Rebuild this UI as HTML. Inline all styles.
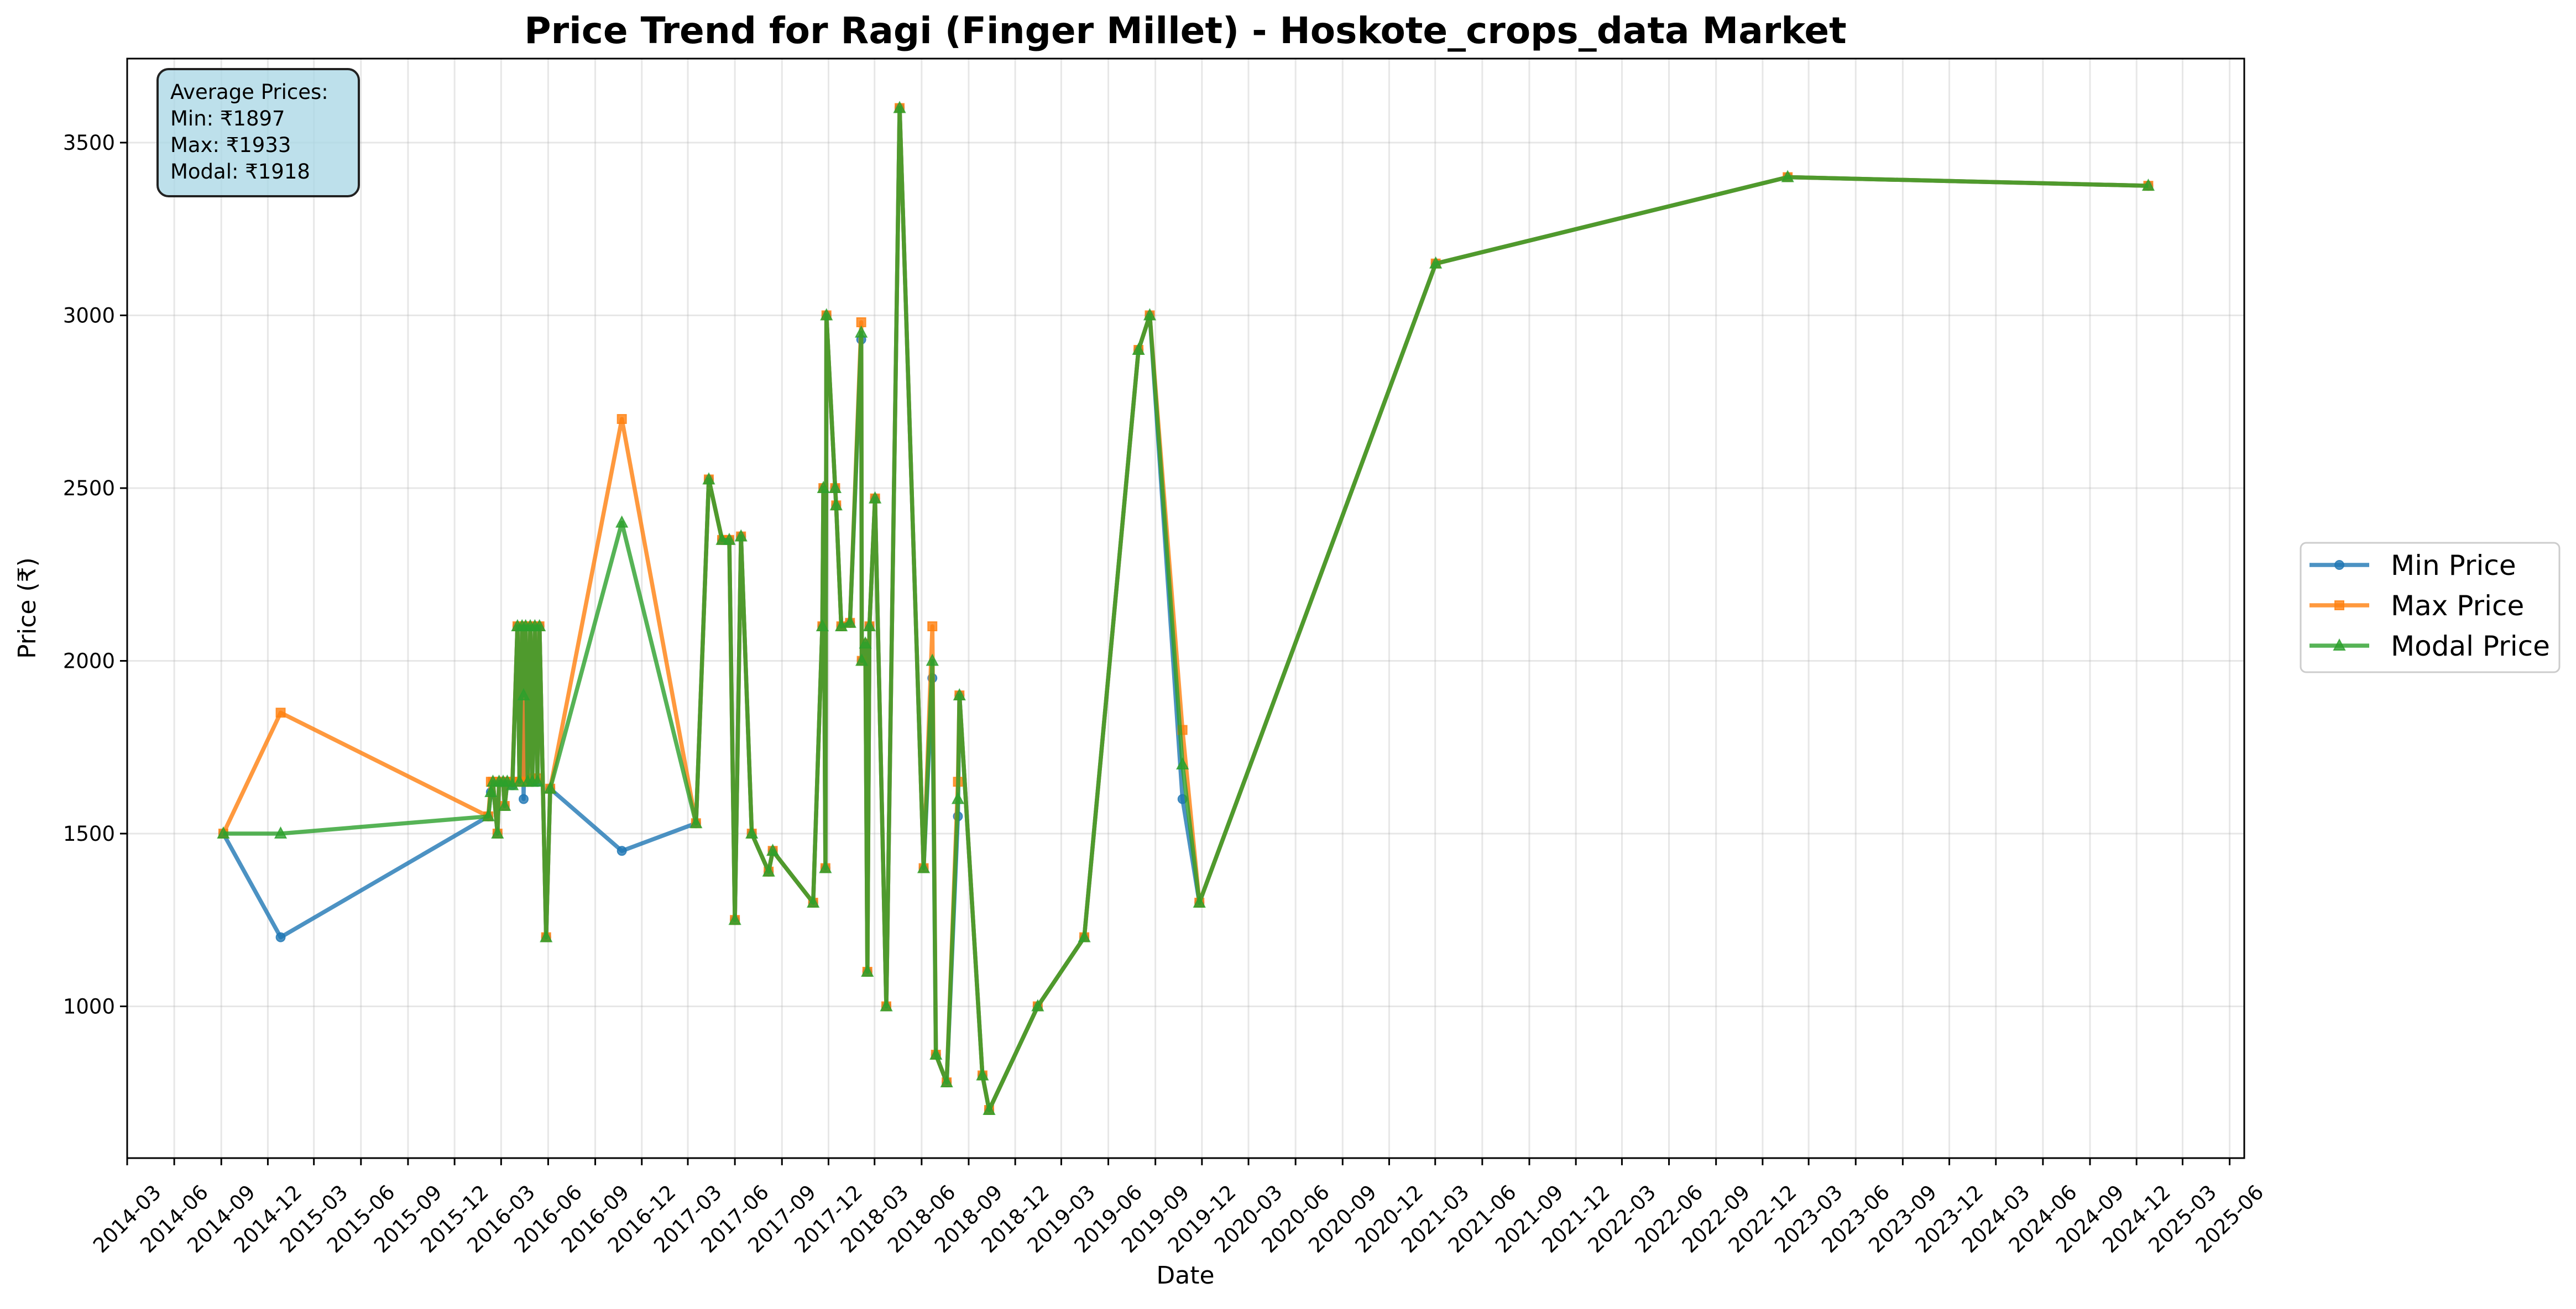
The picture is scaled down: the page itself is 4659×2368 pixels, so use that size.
<!DOCTYPE html>
<html><head><meta charset="utf-8">
<style>
html,body{margin:0;padding:0;background:#fff;}
svg{display:block;font-family:"DejaVu Sans","Liberation Sans",sans-serif;}
</style></head>
<body>
<svg id="chart" width="4659" height="2368" viewBox="0 0 4659 2368" xmlns="http://www.w3.org/2000/svg">
<rect x="0" y="0" width="4659" height="2368" fill="#fff"/>
<g id="grid"></g>
<g id="series"></g>
<rect x="230" y="106" width="3829" height="1989" fill="none" stroke="#000" stroke-width="3"/>
<g id="axes"></g>
<text x="2144" y="78" text-anchor="middle" font-size="66" font-weight="bold">Price Trend for Ragi (Finger Millet) - Hoskote_crops_data Market</text>
<text x="2144" y="2322" text-anchor="middle" font-size="44">Date</text>
<text transform="translate(64,1100) rotate(-90)" text-anchor="middle" font-size="44">Price (₹)</text>
<g>
<rect x="285" y="125" width="364" height="230" rx="20" fill="#add8e6" fill-opacity="0.8" stroke="#222" stroke-width="4"/>
<text x="308" y="179" font-size="37">Average Prices:</text>
<text x="308" y="227" font-size="37">Min: ₹1897</text>
<text x="308" y="275" font-size="37">Max: ₹1933</text>
<text x="308" y="323" font-size="37">Modal: ₹1918</text>
</g>
<g id="legend">
<rect x="4161" y="982" width="468" height="234" rx="10" fill="#fff" fill-opacity="0.8" stroke="#ccc" stroke-width="3"/>
</g>
</svg>
<script>
const dates = ["2014-09-05","2014-12-26","2016-02-05","2016-02-10","2016-02-14","2016-02-23","2016-02-26","2016-03-05","2016-03-08","2016-03-13","2016-03-23","2016-04-02","2016-04-06","2016-04-11","2016-04-14","2016-04-18","2016-04-22","2016-04-27","2016-05-01","2016-05-06","2016-05-11","2016-05-15","2016-05-28","2016-06-05","2016-10-23","2017-03-17","2017-04-11","2017-05-07","2017-05-21","2017-06-01","2017-06-13","2017-07-04","2017-08-06","2017-08-14","2017-11-01","2017-11-19","2017-11-21","2017-11-25","2017-11-27","2017-12-14","2017-12-16","2017-12-26","2018-01-12","2018-02-03","2018-02-04","2018-02-11","2018-02-15","2018-02-19","2018-03-02","2018-03-24","2018-04-19","2018-06-05","2018-06-22","2018-06-29","2018-07-20","2018-08-11","2018-08-14","2018-09-28","2018-10-11","2019-01-14","2019-04-15","2019-07-30","2019-08-21","2019-10-24","2019-11-26","2021-03-02","2023-01-19","2024-12-24"];
const minPrice = [1500,1200,1550,1620,1650,1500,1650,1650,1580,1650,1640,2100,1650,2100,1600,2100,1650,2100,1650,2100,1650,2100,1200,1630,1450,1530,2525,2350,2350,1250,2360,1500,1390,1450,1300,2100,2500,1400,3000,2500,2450,2100,2110,2930,2000,2050,1100,2100,2470,1000,3600,1400,1950,860,780,1550,1900,800,700,1000,1200,2900,3000,1600,1300,3150,3400,3375];
const maxPrice = [1500,1850,1550,1650,1650,1500,1650,1650,1580,1650,1650,2100,1650,2100,1650,2100,1650,2100,1660,2100,1660,2100,1200,1630,2700,1530,2525,2350,2350,1250,2360,1500,1390,1450,1300,2100,2500,1400,3000,2500,2450,2100,2110,2980,2000,2050,1100,2100,2470,1000,3600,1400,2100,860,780,1650,1900,800,700,1000,1200,2900,3000,1800,1300,3150,3400,3375];
const modalPrice = [1500,1500,1550,1620,1650,1500,1650,1650,1580,1650,1640,2100,1650,2100,1900,2100,1650,2100,1650,2100,1650,2100,1200,1630,2400,1530,2525,2350,2350,1250,2360,1500,1390,1450,1300,2100,2500,1400,3000,2500,2450,2100,2110,2950,2000,2050,1100,2100,2470,1000,3600,1400,2000,860,780,1600,1900,800,700,1000,1200,2900,3000,1700,1300,3150,3400,3375];
const yTicks = [1000,1500,2000,2500,3000,3500];
const xTickLabels = [];
for (let yr=2014; yr<=2025; yr++) for (const m of ["03","06","09","12"]) { const s=yr+"-"+m; if (s>="2014-03" && s<="2025-06") xTickLabels.push(s); }

const NS="http://www.w3.org/2000/svg";
const X0=230, X1=4059, Y0=106, Y1=2095;
const d0=Date.UTC(2014,2,1), PXD=0.9252;
function parseD(s){const p=s.split("-").map(Number);return Date.UTC(p[0],p[1]-1,p[2]||1);}
function xs(s){return X0+(parseD(s)-d0)/86400000*PXD;}
function ys(v){return 258+(3500-v)*0.625;}
function mk(tag,attrs,parent){const e=document.createElementNS(NS,tag);for(const k in attrs)e.setAttribute(k,attrs[k]);parent.appendChild(e);return e;}

const grid=document.getElementById("grid"), axes=document.getElementById("axes"), ser=document.getElementById("series");
yTicks.forEach(v=>{
  const y=ys(v);
  const gl=mk("line",{x1:X0,x2:X1,y1:y,y2:y,stroke:"#b0b0b0","stroke-opacity":"0.3","stroke-width":"3"},grid);
  
  
  const tk=mk("line",{x1:X0-13,x2:X0,y1:y,y2:y,stroke:"#000","stroke-width":"3"},axes);
  
  
  const t=mk("text",{x:X0-22,y:y+13,"text-anchor":"end","font-size":"37"},axes);
  t.textContent=v;
  
  
});
xTickLabels.forEach(s=>{
  const x=xs(s+"-01");
  const gl=mk("line",{x1:x,x2:x,y1:Y0,y2:Y1,stroke:"#b0b0b0","stroke-opacity":"0.3","stroke-width":"3"},grid);
  
  
  const tk=mk("line",{x1:x,x2:x,y1:Y1,y2:Y1+13,stroke:"#000","stroke-width":"3"},axes);
  
  
  const t=mk("text",{x:0,y:0,"text-anchor":"middle","dominant-baseline":"central","font-size":"37",transform:"translate("+x+",2205) rotate(-45)"},axes);
  t.textContent=s;
  
  
});

function marker(shape,cx,cy,color,parent){
  let e;
  if(shape==="circle") e=mk("circle",{cx:cx,cy:cy,r:8,fill:color,"fill-opacity":"0.8",stroke:color,"stroke-opacity":"0.8","stroke-width":"2"},parent);
  else if(shape==="square") e=mk("rect",{x:cx-8,y:cy-8,width:16,height:16,fill:color,"fill-opacity":"0.8",stroke:color,"stroke-opacity":"0.8","stroke-width":"2"},parent);
  else e=mk("polygon",{points:(cx)+","+(cy-11)+" "+(cx-10)+","+(cy+8)+" "+(cx+10)+","+(cy+8),fill:color,"fill-opacity":"0.8",stroke:color,"stroke-opacity":"0.8","stroke-width":"2"},parent);
  return e;
}
const seriesDefs=[["min-price",minPrice,"#1f77b4","circle","Min Price"],["max-price",maxPrice,"#ff7f0e","square","Max Price"],["modal-price",modalPrice,"#2ca02c","triangle","Modal Price"]];
seriesDefs.forEach(([nm,vals,col,shape])=>{
  const g=mk("g",{},ser);
  
  
  const pts=vals.map((v,i)=>xs(dates[i]).toFixed(1)+","+ys(v).toFixed(1)).join(" ");
  const pl=mk("polyline",{points:pts,fill:"none",stroke:col,"stroke-opacity":"0.8","stroke-width":"7.5","stroke-linejoin":"round"},g);
  
  
  vals.forEach((v,i)=>{
    const m=marker(shape,xs(dates[i]),ys(v),col,g);
    
    
  });
});
const leg=document.getElementById("legend");
seriesDefs.forEach(([nm,vals,col,shape,label],i)=>{
  const y=1022+i*73;
  const g=mk("g",{},leg);
  
  
  mk("line",{x1:4177,x2:4285,y1:y,y2:y,stroke:col,"stroke-opacity":"0.8","stroke-width":"7.5"},g);
  marker(shape,4231,y,col,g);
  const t=mk("text",{x:4324,y:y+18,"font-size":"50"},g);
  t.textContent=label;
});
</script>
</body></html>
